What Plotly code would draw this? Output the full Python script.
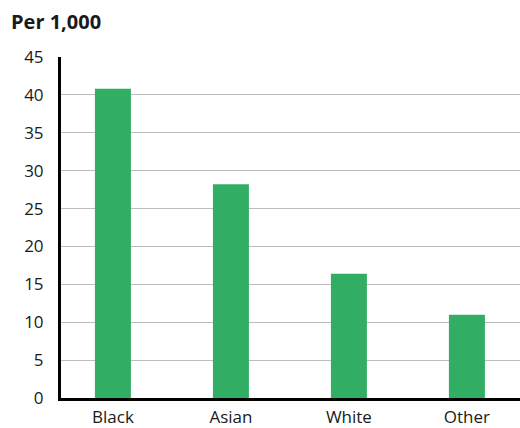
import plotly.graph_objects as go

categories = ["Black", "Asian", "White", "Other"]
values = [40.8, 28.2, 16.4, 11.0]
y_ticks = [0, 5, 10, 15, 20, 25, 30, 35, 40, 45]

fig = go.Figure(go.Bar(
    x=categories, y=values,
    marker=dict(color="#32AD64", line=dict(width=0)),
    width=0.305,
))

fig.update_layout(
    width=520, height=428,
    margin=dict(l=61, r=0, t=57, b=28),
    plot_bgcolor="white", paper_bgcolor="white",
    font=dict(family="Open Sans, sans-serif", size=17, color="#1a1a1a"),
    showlegend=False,
    xaxis=dict(
        range=[-0.44, 3.45],
        showline=True, linecolor="black", linewidth=3,
        showgrid=False, ticks="", tickfont=dict(size=17),
        ticklabelstandoff=2,
        fixedrange=True,
    ),
    yaxis=dict(
        range=[0, 45], tickvals=y_ticks,
        showline=True, linecolor="black", linewidth=3,
        showgrid=True, gridcolor="#bdbdbd", gridwidth=1,
        ticks="", ticklabelstandoff=11, tickfont=dict(size=17),
        zeroline=False, fixedrange=True,
    ),
    annotations=[dict(
        text="<b>Per 1,000</b>", xref="paper", yref="paper",
        x=-52/459, y=1 + 36/343, xanchor="left", yanchor="middle",
        showarrow=False, font=dict(size=20, color="#1a1a1a"),
    )],
)

fig.write_html(
    "out.html",
    config={"displayModeBar": False},
    post_script="document.body.style.margin='0';document.body.style.overflow='hidden';",
)
